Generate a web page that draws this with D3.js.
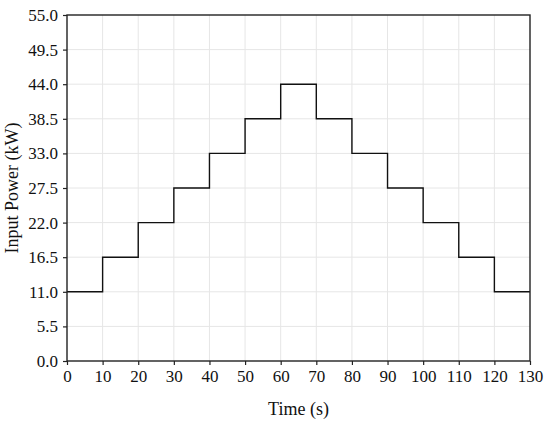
<!DOCTYPE html>
<html>
<head>
<meta charset="utf-8">
<script src="https://cdn.jsdelivr.net/npm/d3@7.9.0/dist/d3.min.js"></script>
<style>
  body { margin: 0; background: #fff; }
  text { font-family: "Liberation Serif", "Times New Roman", serif; fill: #111; }
</style>
</head>
<body>
<svg id="chart" width="550" height="425"></svg>
<script>
// step start times (s) and power level held over each 10 s step (kW)
const stepStarts = [0, 10, 20, 30, 40, 50, 60, 70, 80, 90, 100, 110, 120];
const powerLevels = [11, 16.5, 22, 27.5, 33, 38.5, 44, 38.5, 33, 27.5, 22, 16.5, 11];
const endTime = 130;

const xTicks = [0, 10, 20, 30, 40, 50, 60, 70, 80, 90, 100, 110, 120, 130];
const yTicks = [0, 5.5, 11, 16.5, 22, 27.5, 33, 38.5, 44, 49.5, 55];

const svg = d3.select('#chart');
const margin = { top: 15, right: 20, bottom: 64, left: 67 };
const width = 550 - margin.left - margin.right;
const height = 425 - margin.top - margin.bottom;

const x = d3.scaleLinear().domain([0, 130]).range([0, width]);
const y = d3.scaleLinear().domain([0, 55]).range([height, 0]);

const g = svg.append('g').attr('transform', `translate(${margin.left},${margin.top})`);

// grid
g.append('g').selectAll('line').data(xTicks.slice(1, -1)).join('line')
  .attr('x1', d => x(d)).attr('x2', d => x(d))
  .attr('y1', 0).attr('y2', height)
  .attr('stroke', '#e6e6e6').attr('stroke-width', 1);
g.append('g').selectAll('line').data(yTicks.slice(1, -1)).join('line')
  .attr('x1', 0).attr('x2', width)
  .attr('y1', d => y(d)).attr('y2', d => y(d))
  .attr('stroke', '#e6e6e6').attr('stroke-width', 1);

// step line
const pts = stepStarts.map((t, i) => [t, powerLevels[i]]);
pts.push([endTime, powerLevels[powerLevels.length - 1]]);
const line = d3.line().x(d => x(d[0])).y(d => y(d[1])).curve(d3.curveStepAfter);
g.append('path').datum(pts)
  .attr('d', line)
  .attr('fill', 'none')
  .attr('stroke', '#111')
  .attr('stroke-width', 1.4);

// axes
const xAxis = g.append('g').attr('transform', `translate(0,${height})`)
  .call(d3.axisBottom(x).tickValues(xTicks).tickSize(4).tickPadding(5).tickFormat(d3.format('d')));
const yAxis = g.append('g')
  .call(d3.axisLeft(y).tickValues(yTicks).tickSize(4).tickPadding(5).tickFormat(d3.format('.1f')));
[xAxis, yAxis].forEach(a => {
  a.attr('font-family', null).attr('font-size', null);
  a.select('.domain').remove();
  a.selectAll('line').attr('stroke', '#222').attr('stroke-width', 1.2);
  a.selectAll('text').attr('fill', '#111')
    .style('font-family', '"Liberation Serif", "Times New Roman", serif')
    .style('font-size', '17px');
});

// frame
g.append('rect').attr('x', 0).attr('y', 0).attr('width', width).attr('height', height)
  .attr('fill', 'none').attr('stroke', '#222').attr('stroke-width', 1.4);

// titles
svg.append('text')
  .attr('x', margin.left + width / 2).attr('y', 415)
  .attr('text-anchor', 'middle').attr('font-size', 18)
  .text('Time (s)');
svg.append('text')
  .attr('transform', `translate(18,${margin.top + height / 2}) rotate(-90)`)
  .attr('text-anchor', 'middle').attr('font-size', 18)
  .text('Input Power (kW)');
</script>
</body>
</html>
